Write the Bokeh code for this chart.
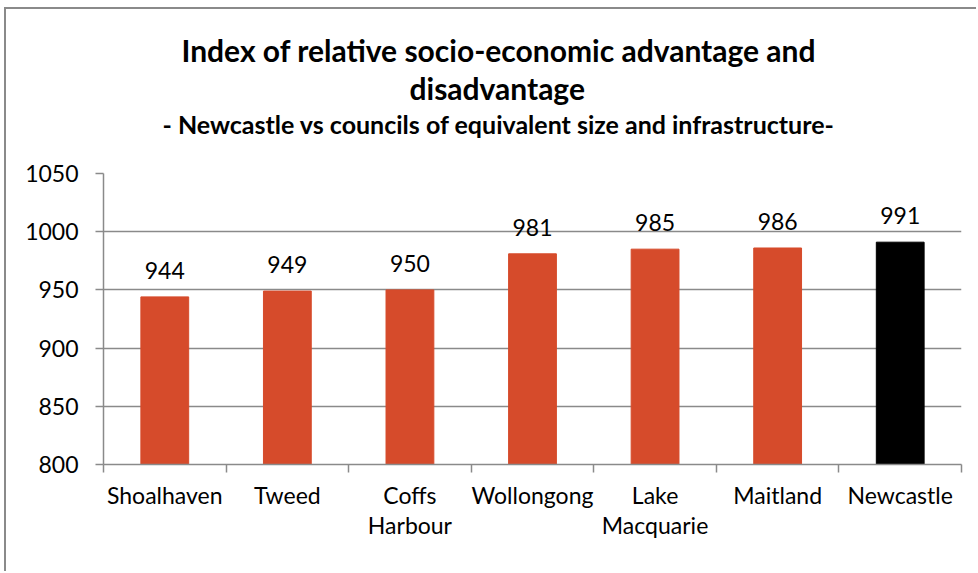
import numpy as np
from bokeh.plotting import figure
from bokeh.models import FixedTicker, Range1d, LabelSet, ColumnDataSource, Title
from bokeh.core.properties import value
from bokeh.embed import file_html
from bokeh.resources import INLINE

# ---- data ----
councils = ["Shoalhaven", "Tweed", "Coffs Harbour", "Wollongong",
            "Lake Macquarie", "Maitland", "Newcastle"]
tick_labels = ["Shoalhaven", "Tweed", "Coffs\nHarbour", "Wollongong",
               "Lake\nMacquarie", "Maitland", "Newcastle"]
index_values = [944, 949, 950, 981, 985, 986, 991]
highlight = "Newcastle"
y_ticks = [800, 850, 900, 950, 1000, 1050]

title_line1 = "Index of relative socio-economic advantage and"
title_line2 = "disadvantage"
subtitle = "- Newcastle vs councils of equivalent size and infrastructure-"

# ---- styles ----
ORANGE = "#D64B2B"
BLACK = "#000000"
GRAY = "#8a8a8a"
FONT = "Lato"

FIG_W, FIG_H = 972, 564
BORDER_L, BORDER_R, BORDER_T, BORDER_B = 97, 17, 164, 109

x = [i + 0.5 for i in range(len(councils))]
colors = [BLACK if c == highlight else ORANGE for c in councils]
src = ColumnDataSource(dict(x=x, top=index_values, color=colors,
                            label=[str(v) for v in index_values]))

p = figure(width=FIG_W, height=FIG_H,
           x_range=Range1d(0, len(councils)), y_range=Range1d(800, 1050),
           output_backend="svg", toolbar_location=None,
           min_border_left=BORDER_L, min_border_right=BORDER_R,
           min_border_top=BORDER_T, min_border_bottom=BORDER_B)
p.styles = {"margin-left": "4px", "margin-top": "7px",
            "border-left": "2px solid " + GRAY,
            "border-top": "2px solid " + GRAY}
p.outline_line_color = None
p.background_fill_color = "white"
p.border_fill_color = "white"

p.vbar(x="x", top="top", bottom=800, width=0.39, color="color", source=src)

labels = LabelSet(x="x", y="top", text="label", source=src, y_offset=18,
                  text_align="center", text_baseline="alphabetic",
                  text_font_size="23px", text_font=value(FONT), text_color="black")
p.add_layout(labels)

# titles: first added sits nearest the plot frame
def spacer(standoff):
    return Title(text=" ", text_font=FONT, text_font_size="10px",
                 standoff=standoff, text_color="white")

p.add_layout(spacer(19.5), "above")
p.add_layout(Title(text=subtitle, text_font=FONT, text_font_size="25px",
                   text_font_style="bold", text_color="black",
                   align="left", offset=59, standoff=2), "above")
p.add_layout(Title(text=title_line2, text_font=FONT, text_font_size="30px",
                   text_font_style="bold", text_color="black",
                   align="left", offset=306, standoff=0), "above")
p.add_layout(Title(text=title_line1, text_font=FONT, text_font_size="30px",
                   text_font_style="bold", text_color="black",
                   align="left", offset=78, standoff=0), "above")
p.add_layout(spacer(4), "above")

# y axis
p.yaxis.ticker = FixedTicker(ticks=y_ticks)
p.yaxis.major_tick_in = 0
p.yaxis.major_tick_out = 8
p.yaxis.minor_tick_out = 0
p.yaxis.minor_tick_in = 0
p.yaxis.axis_line_color = GRAY
p.yaxis.axis_line_width = 1.5
p.yaxis.major_tick_line_color = GRAY
p.yaxis.major_tick_line_width = 1.5
p.yaxis.major_label_standoff = 17
p.yaxis.major_label_text_font = FONT
p.yaxis.major_label_text_font_size = "23px"
p.yaxis.major_label_text_color = "black"

# x axis: labels at bar centres, tick marks at category boundaries
p.xaxis.ticker = FixedTicker(ticks=x, minor_ticks=list(range(len(councils) + 1)))
p.xaxis.major_label_overrides = {xv: lab for xv, lab in zip(x, tick_labels)}
p.xaxis.major_tick_in = 0
p.xaxis.major_tick_out = 0
p.xaxis.minor_tick_in = 0
p.xaxis.minor_tick_out = 8
p.xaxis.minor_tick_line_color = GRAY
p.xaxis.minor_tick_line_width = 1.5
p.xaxis.axis_line_color = GRAY
p.xaxis.axis_line_width = 1.5
p.xaxis.major_label_standoff = 8
p.xaxis.major_label_text_font = FONT
p.xaxis.major_label_text_font_size = "23px"
p.xaxis.major_label_text_line_height = 1.1
p.xaxis.major_label_text_color = "black"

p.xgrid.visible = False
p.ygrid.ticker = FixedTicker(ticks=y_ticks)
p.ygrid.grid_line_color = GRAY
p.ygrid.grid_line_width = 1.5

open("out.html", "w").write(file_html(p, INLINE))
